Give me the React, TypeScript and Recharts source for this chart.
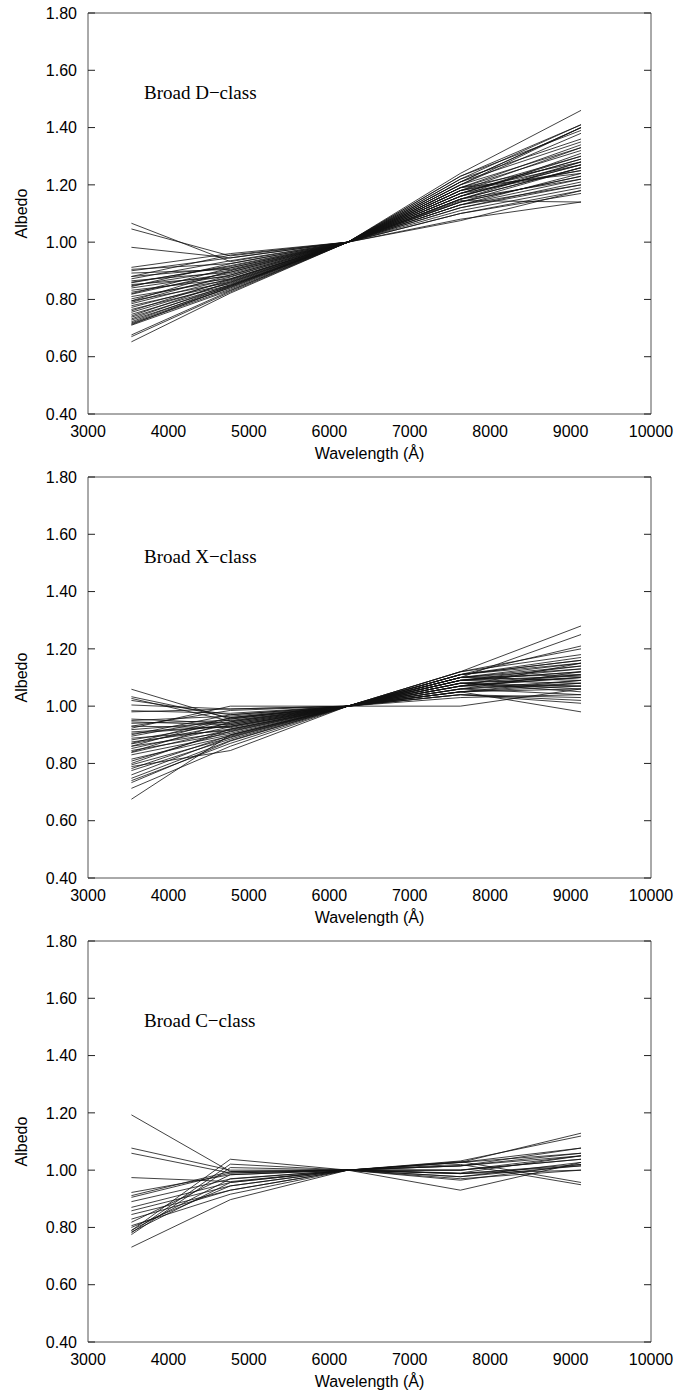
import { LineChart, Line, XAxis, YAxis } from 'recharts';

// effective wavelengths of the five filters (Å)
const wavelengths = [3540, 4770, 6230, 7630, 9130];

const xTicks = [3000, 4000, 5000, 6000, 7000, 8000, 9000, 10000];
const yTicks = [0.4, 0.6, 0.8, 1.0, 1.2, 1.4, 1.6, 1.8];

// albedo at each wavelength, normalised to 1 at 6230 Å
const dClass = [
  [1.066, 0.932, 1, 1.16, 1.27],
  [1.046, 0.952, 1, 1.13, 1.22],
  [0.982, 0.945, 1, 1.10, 1.18],
  [0.912, 0.960, 1, 1.08, 1.14],
  [0.905, 0.925, 1, 1.15, 1.26],
  [0.892, 0.905, 1, 1.12, 1.20],
  [0.880, 0.910, 1, 1.17, 1.30],
  [0.872, 0.935, 1, 1.14, 1.23],
  [0.865, 0.895, 1, 1.19, 1.34],
  [0.858, 0.918, 1, 1.11, 1.19],
  [0.852, 0.880, 1, 1.16, 1.28],
  [0.848, 0.902, 1, 1.18, 1.25],
  [0.840, 0.890, 1, 1.13, 1.24],
  [0.832, 0.872, 1, 1.20, 1.38],
  [0.825, 0.885, 1, 1.15, 1.22],
  [0.818, 0.895, 1, 1.10, 1.17],
  [0.810, 0.868, 1, 1.17, 1.29],
  [0.802, 0.878, 1, 1.14, 1.26],
  [0.795, 0.860, 1, 1.21, 1.40],
  [0.790, 0.885, 1, 1.12, 1.21],
  [0.785, 0.872, 1, 1.18, 1.27],
  [0.778, 0.855, 1, 1.16, 1.31],
  [0.772, 0.865, 1, 1.19, 1.24],
  [0.765, 0.850, 1, 1.15, 1.28],
  [0.760, 0.870, 1, 1.13, 1.20],
  [0.755, 0.858, 1, 1.22, 1.36],
  [0.748, 0.848, 1, 1.17, 1.25],
  [0.742, 0.862, 1, 1.14, 1.23],
  [0.738, 0.845, 1, 1.20, 1.33],
  [0.732, 0.852, 1, 1.16, 1.27],
  [0.728, 0.840, 1, 1.18, 1.30],
  [0.722, 0.848, 1, 1.23, 1.39],
  [0.718, 0.842, 1, 1.15, 1.26],
  [0.715, 0.836, 1, 1.19, 1.28],
  [0.712, 0.845, 1, 1.21, 1.35],
  [0.676, 0.830, 1, 1.24, 1.46],
  [0.670, 0.826, 1, 1.20, 1.40],
  [0.652, 0.822, 1, 1.22, 1.41],
  [0.710, 0.832, 1, 1.17, 1.29],
  [0.795, 0.900, 1, 1.075, 1.18],
  [0.860, 0.915, 1, 1.145, 1.14],
  [0.900, 0.945, 1, 1.21, 1.40],
  [0.880, 0.955, 1, 1.23, 1.41],
  [0.845, 0.925, 1, 1.19, 1.32],
  [0.820, 0.910, 1, 1.18, 1.33],
];

const xClass = [
  [1.059, 0.955, 1, 1.08, 1.10],
  [1.033, 0.960, 1, 1.06, 1.12],
  [1.027, 0.948, 1, 1.09, 1.08],
  [1.020, 0.970, 1, 1.05, 1.06],
  [1.004, 0.990, 1, 1.03, 1.04],
  [0.984, 0.975, 1, 1.07, 1.15],
  [0.955, 0.940, 1, 1.10, 1.13],
  [0.950, 0.965, 1, 1.04, 1.02],
  [0.945, 0.935, 1, 1.08, 1.11],
  [0.940, 0.950, 1, 1.11, 1.16],
  [0.930, 0.925, 1, 1.06, 1.09],
  [0.918, 0.945, 1, 1.09, 1.12],
  [0.905, 0.930, 1, 1.05, 1.07],
  [0.895, 0.958, 1, 1.07, 1.10],
  [0.888, 0.915, 1, 1.10, 1.14],
  [0.882, 0.940, 1, 1.08, 1.05],
  [0.875, 0.920, 1, 1.12, 1.18],
  [0.868, 0.935, 1, 1.06, 1.08],
  [0.860, 0.910, 1, 1.09, 1.13],
  [0.852, 0.928, 1, 1.04, 1.03],
  [0.845, 0.905, 1, 1.11, 1.21],
  [0.838, 0.918, 1, 1.07, 1.11],
  [0.830, 0.900, 1, 1.10, 1.15],
  [0.815, 0.895, 1, 1.08, 1.07],
  [0.808, 0.912, 1, 1.05, 1.09],
  [0.795, 0.890, 1, 1.09, 1.12],
  [0.789, 0.845, 1, 1.06, 1.04],
  [0.782, 0.898, 1, 1.11, 1.17],
  [0.775, 0.885, 1, 1.07, 1.10],
  [0.760, 0.892, 1, 1.10, 1.25],
  [0.748, 0.880, 1, 1.12, 1.28],
  [0.740, 0.870, 1, 1.08, 1.06],
  [0.733, 0.878, 1, 1.09, 1.14],
  [0.713, 0.860, 1, 1.10, 1.11],
  [0.675, 0.900, 1, 1.05, 1.08],
  [0.930, 0.985, 1, 1.05, 0.98],
  [0.923, 1.000, 1, 1.00, 1.06],
  [0.870, 0.960, 1, 1.11, 1.16],
  [0.900, 0.970, 1, 1.12, 1.20],
  [0.840, 0.945, 1, 1.10, 1.09],
  [0.980, 0.990, 1, 1.04, 1.01],
  [0.800, 0.920, 1, 1.11, 1.15],
  [0.910, 0.930, 1, 1.07, 1.07],
  [0.860, 0.955, 1, 1.09, 1.105],
];

const cClass = [
  [1.193, 0.995, 1, 1.020, 0.949],
  [1.077, 1.000, 1, 1.030, 0.957],
  [1.059, 0.990, 1, 0.990, 1.050],
  [0.974, 0.960, 1, 0.930, 1.027],
  [0.922, 0.984, 1, 1.015, 1.077],
  [0.911, 0.995, 1, 1.027, 1.077],
  [0.890, 0.969, 1, 1.000, 1.038],
  [0.870, 0.957, 1, 0.988, 1.015],
  [0.858, 0.945, 1, 1.015, 1.059],
  [0.829, 0.930, 1, 0.977, 1.027],
  [0.818, 0.984, 1, 1.000, 1.050],
  [0.806, 0.916, 1, 0.988, 1.000],
  [0.789, 1.038, 1, 1.027, 1.129],
  [0.781, 1.021, 1, 1.032, 1.119],
  [0.775, 1.009, 1, 0.965, 1.020],
  [0.784, 0.957, 1, 1.000, 1.038],
  [0.731, 0.897, 1, 0.977, 1.015],
  [0.800, 0.945, 1, 1.027, 1.059],
  [0.905, 0.990, 1, 0.988, 1.020],
  [0.845, 0.930, 1, 1.015, 1.050],
  [0.790, 0.970, 1, 0.970, 1.000],
];

const sans = '"Liberation Sans", Arial, Helvetica, sans-serif';
const frame = { stroke: '#555', strokeWidth: 1 };
const tickMark = { stroke: '#222', strokeWidth: 1 };
const noLabel = () => '';

function buildRows(spectra: number[][]) {
  return wavelengths.map((wl, i) => {
    const row: Record<string, number> = { wl };
    spectra.forEach((s, j) => {
      row['s' + j] = s[i];
    });
    return row;
  });
}

function Panel({ spectra, title }: { spectra: number[][]; title: string }) {
  const data = buildRows(spectra);
  return (
    <div style={{ position: 'relative', width: 698, height: 464 }}>
      <LineChart width={698} height={464} data={data} margin={{ top: 13, right: 47, bottom: 0, left: 0 }}>
        <XAxis
          xAxisId="main"
          dataKey="wl"
          type="number"
          domain={[3000, 10000]}
          ticks={xTicks}
          interval={0}
          allowDataOverflow
          height={50}
          axisLine={false}
          tickLine={false}
          tickSize={0}
          tickMargin={12}
          tick={{ fontSize: 16, fill: '#000', fontFamily: sans }}
          label={{ value: 'Wavelength (Å)', position: 'insideBottom', offset: 5, fontSize: 16, fill: '#000', fontFamily: sans }}
        />
        <XAxis xAxisId="bot" type="number" domain={[3000, 10000]} ticks={xTicks} interval={0} allowDataOverflow
          orientation="bottom" mirror tickFormatter={noLabel} tick={{ fontSize: 1 }} tickSize={7} axisLine={frame} tickLine={tickMark} />
        <XAxis xAxisId="top" type="number" domain={[3000, 10000]} ticks={xTicks} interval={0} allowDataOverflow
          orientation="top" mirror tickFormatter={noLabel} tick={{ fontSize: 1 }} tickSize={7} axisLine={frame} tickLine={tickMark} />
        <YAxis
          yAxisId="main"
          type="number"
          domain={[0.4, 1.8]}
          ticks={yTicks}
          interval={0}
          allowDataOverflow
          width={88}
          axisLine={false}
          tickLine={false}
          tickSize={0}
          tickMargin={11}
          tickFormatter={(v: number) => v.toFixed(2)}
          tick={{ fontSize: 16, fill: '#000', fontFamily: sans }}
          label={{ value: 'Albedo', angle: -90, position: 'insideLeft', offset: 21, fontSize: 16, fill: '#000', fontFamily: sans, style: { textAnchor: 'middle' } }}
        />
        <YAxis yAxisId="lft" type="number" domain={[0.4, 1.8]} ticks={yTicks} interval={0} allowDataOverflow
          orientation="left" mirror tickFormatter={noLabel} tick={{ fontSize: 1 }} tickSize={7} axisLine={frame} tickLine={tickMark} />
        <YAxis yAxisId="rgt" type="number" domain={[0.4, 1.8]} ticks={yTicks} interval={0} allowDataOverflow
          orientation="right" mirror tickFormatter={noLabel} tick={{ fontSize: 1 }} tickSize={7} axisLine={frame} tickLine={tickMark} />
        {spectra.map((_, j) => (
          <Line
            key={j}
            xAxisId="main"
            yAxisId="main"
            type="linear"
            dataKey={'s' + j}
            stroke="#111"
            strokeWidth={0.8}
            dot={false}
            activeDot={false}
            isAnimationActive={false}
          />
        ))}
      </LineChart>
      <div
        style={{
          position: 'absolute',
          left: 144,
          top: 83,
          fontFamily: '"Liberation Serif", "Times New Roman", serif',
          fontSize: 19,
          lineHeight: 1,
          color: '#000',
          whiteSpace: 'nowrap',
        }}
      >
        {title}
      </div>
    </div>
  );
}

export default function App() {
  return (
    <div style={{ position: 'absolute', left: 0, top: 0, width: 698, background: '#fff' }}>
      <Panel spectra={dClass} title="Broad D−class" />
      <Panel spectra={xClass} title="Broad X−class" />
      <Panel spectra={cClass} title="Broad C−class" />
    </div>
  );
}
